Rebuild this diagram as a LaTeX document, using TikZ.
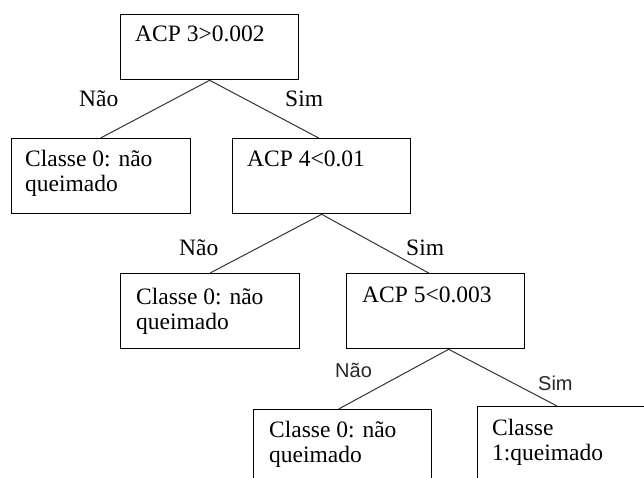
\documentclass[tikz,border=0pt]{standalone}
\usepackage{fontspec}
\setmainfont{Liberation Serif}
\newfontfamily\labsans{Liberation Sans}
\usetikzlibrary{calc}
\tikzset{
  box/.style={draw=black, line width=1.3pt, rectangle, inner sep=0pt, anchor=north west},
  txt/.style={inner sep=0pt, anchor=base west, font=\fontsize{23.5}{25}\selectfont},
  lab/.style={inner sep=0pt, anchor=base west, font=\fontsize{23.5}{25}\selectfont},
  slab/.style={inner sep=0pt, anchor=base west, font=\labsans\fontsize{20}{22}\selectfont, text=black!85},
  edge/.style={draw=black!80, line width=1pt}
}
\begin{document}
\begin{tikzpicture}[x=1pt,y=-1pt]
\useasboundingbox (0,0) rectangle (644,478);
\clip (0,0) rectangle (644,478);
% boxes
\node[box, minimum width=178pt, minimum height=65pt] (b1) at (120,14) {};
\node[box, minimum width=179pt, minimum height=75pt] (l1) at (11,138) {};
\node[box, minimum width=178pt, minimum height=75pt] (b4) at (232,138) {};
\node[box, minimum width=179pt, minimum height=75pt] (l2) at (120,273) {};
\node[box, minimum width=178pt, minimum height=75pt] (b5) at (346,273) {};
\node[box, minimum width=178pt, minimum height=120pt] (l3) at (253,409) {};
\node[box, minimum width=200pt, minimum height=120pt] (r3) at (477,406) {};
% texts
\node[txt] (t1) at (135,42) {ACP 3>0.002};
\node[txt] (t2) at (25,167) {\begin{tabular}[t]{@{}l@{}}Classe 0: não\\queimado\end{tabular}};
\node[txt] (t3) at (247,167) {ACP 4<0.01};
\node[txt] (t4) at (136,304) {\begin{tabular}[t]{@{}l@{}}Classe 0: não\\queimado\end{tabular}};
\node[txt] (t5) at (362,302) {ACP 5<0.003};
\node[txt] (t6) at (269,437) {\begin{tabular}[t]{@{}l@{}}Classe 0: não\\queimado\end{tabular}};
\node[txt] (t7) at (492,435) {\begin{tabular}[t]{@{}l@{}}Classe\\1:queimado\end{tabular}};
% edges
\draw[edge] (b1.south) -- ($(l1.north)+(-0.5,0)$);
\draw[edge] (b1.south) -- ($(b4.north)+(-3,0)$);
\draw[edge] (b4.south) -- (l2.north);
\draw[edge] (b4.south) -- ($(b5.north)+(-7,0)$);
\draw[edge] ($(b5.south)+(13,0)$) -- ($(l3.north)+(-4,0)$);
\draw[edge] ($(b5.south)+(13,0)$) -- ($(r3.north west)+(80,0)$);
% labels
\node[lab] (n1) at (79,107) {Não};
\node[lab] (s1) at (285,107) {Sim};
\node[lab] (n2) at (179,255) {Não};
\node[lab] (s2) at (406,255) {Sim};
\node[slab] (n3) at (335,377) {Não};
\node[slab] (s3) at (538,390) {Sim};
\end{tikzpicture}
\end{document}
